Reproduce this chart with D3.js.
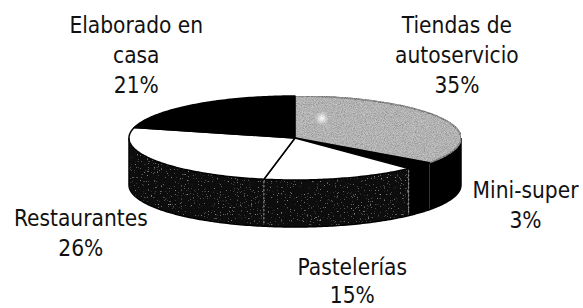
<!DOCTYPE html>
<html>
<head>
<meta charset="utf-8">
<script src="https://cdn.jsdelivr.net/npm/d3@7"></script>
<style>
  body { margin: 0; background: #fff; }
  svg text { font-family: "DejaVu Sans Condensed", "DejaVu Sans", sans-serif; font-stretch: condensed; font-size: 22.5px; fill: #111; }
</style>
</head>
<body>
<script>
// data
var categories = ["Tiendas de autoservicio", "Mini-super", "Pastelerías", "Restaurantes", "Elaborado en casa"];
var values = [35, 3, 15, 26, 21];
var labelLines = [["Tiendas de", "autoservicio"], ["Mini-super"], ["Pastelerías"], ["Restaurantes"], ["Elaborado en", "casa"]];
var pctLabels = ["35%", "3%", "15%", "26%", "21%"];

var svgWidth = 583, svgHeight = 308;

// pie geometry (ellipse for the 3D look)
var cx = 295, cy = 138, rx = 166, ry = 42, depth = 47;

var svg = d3.select("body").append("svg")
  .attr("width", svgWidth)
  .attr("height", svgHeight);

var defs = svg.append("defs");

// speckled dark texture for the side walls
var fDark = defs.append("filter").attr("id", "speckDark")
  .attr("x", 0).attr("y", 0).attr("width", "100%").attr("height", "100%");
fDark.append("feTurbulence").attr("type", "fractalNoise").attr("baseFrequency", 0.7)
  .attr("numOctaves", 2).attr("seed", 4).attr("result", "t");
fDark.append("feColorMatrix").attr("in", "t").attr("type", "matrix")
  .attr("values", "0 0 0 0 0.35  0 0 0 0 0.35  0 0 0 0 0.35  4 0 0 0 -2.65").attr("result", "s");
fDark.append("feComposite").attr("in", "s").attr("in2", "SourceGraphic").attr("operator", "in").attr("result", "sc");
var mDark = fDark.append("feMerge");
mDark.append("feMergeNode").attr("in", "SourceGraphic");
mDark.append("feMergeNode").attr("in", "sc");

// grainy grey texture for the top of the big slice
var fGrey = defs.append("filter").attr("id", "speckGrey")
  .attr("x", 0).attr("y", 0).attr("width", "100%").attr("height", "100%");
fGrey.append("feTurbulence").attr("type", "fractalNoise").attr("baseFrequency", 1.1)
  .attr("numOctaves", 2).attr("seed", 7).attr("result", "t");
fGrey.append("feColorMatrix").attr("in", "t").attr("type", "matrix")
  .attr("values", "1 0 0 0 0  1 0 0 0 0  1 0 0 0 0  0 0 0 0 0.5").attr("result", "s");
fGrey.append("feComposite").attr("in", "s").attr("in2", "SourceGraphic").attr("operator", "in").attr("result", "sc");
var mGrey = fGrey.append("feMerge");
mGrey.append("feMergeNode").attr("in", "SourceGraphic");
mGrey.append("feMergeNode").attr("in", "sc");

var glow = defs.append("radialGradient").attr("id", "glow");
glow.append("stop").attr("offset", "0%").attr("stop-color", "#fff").attr("stop-opacity", 0.95);
glow.append("stop").attr("offset", "100%").attr("stop-color", "#fff").attr("stop-opacity", 0);

var topFill = ["#a8a8a8", "#000", "#fff", "#fff", "#000"];
var sideFill = ["#000", "#000", "#0c0c0c", "#0c0c0c", "#000"];
var sideTex = [null, null, "url(#speckDark)", "url(#speckDark)", null];

function pt(a, dy) {
  return [cx + rx * Math.sin(a), cy - ry * Math.cos(a) + (dy || 0)];
}
function arcPts(a0, a1, dy) {
  var n = Math.max(2, Math.ceil((a1 - a0) / (Math.PI / 180)));
  return d3.range(n + 1).map(function(i) { return pt(a0 + (a1 - a0) * i / n, dy); });
}
var line = d3.line();

var arcs = d3.pie().sort(null).value(function(d) { return d; })(values);

// side walls (only the front half can be seen)
var sides = svg.append("g");
function seam(a) {
  sides.append("path")
    .attr("d", line([pt(a, 2), pt(a, depth - 2)]))
    .attr("stroke", "#8a8a8a").attr("stroke-width", 1.2)
    .attr("stroke-dasharray", "2,2");
}
arcs.forEach(function(d, i) {
  var s0 = Math.max(d.startAngle, Math.PI / 2),
      s1 = Math.min(d.endAngle, 3 * Math.PI / 2);
  if (s0 >= s1) return;
  var pts = arcPts(s0, s1, 0).concat(arcPts(s0, s1, depth).reverse());
  sides.append("path")
    .attr("d", line(pts) + "Z")
    .attr("fill", sideFill[i])
    .attr("filter", sideTex[i]);
});
arcs.forEach(function(d, i) {
  // faint seam between the textured wall pieces
  if (sideTex[i] && d.startAngle > Math.PI / 2) seam(d.startAngle);
});

// outline of the body
svg.append("path")
  .attr("d", line([pt(Math.PI / 2, 0)].concat(arcPts(Math.PI / 2, 3 * Math.PI / 2, depth), [pt(3 * Math.PI / 2, 0)])))
  .attr("fill", "none").attr("stroke", "#000").attr("stroke-width", 1.5);

// top faces
var tops = svg.append("g");
arcs.forEach(function(d, i) {
  var pts = [[cx, cy]].concat(arcPts(d.startAngle, d.endAngle, 0));
  tops.append("path")
    .attr("d", line(pts) + "Z")
    .attr("fill", topFill[i])
    .attr("filter", i === 0 ? "url(#speckGrey)" : null)
    .attr("stroke", "#000")
    .attr("stroke-width", 1.5)
    .attr("stroke-linejoin", "round");
});

// little highlight on the grey slice
var hl = pt(arcs[0].startAngle + 0.35, 0);
svg.append("ellipse")
  .attr("cx", cx + (hl[0] - cx) * 0.47)
  .attr("cy", cy + (hl[1] - cy) * 0.5)
  .attr("rx", 7).attr("ry", 7)
  .attr("fill", "url(#glow)");

// labels: anchored at the rim point of each slice's middle angle, then pushed outward
var labelNudge = [[14, -86], [106, 32], [11, 97], [-74, 65], [-57, -72]];
var lineH = 30;
arcs.forEach(function(d, i) {
  var mid = (d.startAngle + d.endAngle) / 2;
  var a = pt(mid, 0);
  var lines = labelLines[i].concat([pctLabels[i]]);
  var x = a[0] + labelNudge[i][0];
  var y0 = a[1] + labelNudge[i][1];
  var lh = i === 2 ? 28 : lineH;
  var t = svg.append("text").attr("text-anchor", "middle");
  lines.forEach(function(s, k) {
    t.append("tspan").attr("x", x).attr("y", y0 + k * lh).text(s);
  });
});
</script>
</body>
</html>
